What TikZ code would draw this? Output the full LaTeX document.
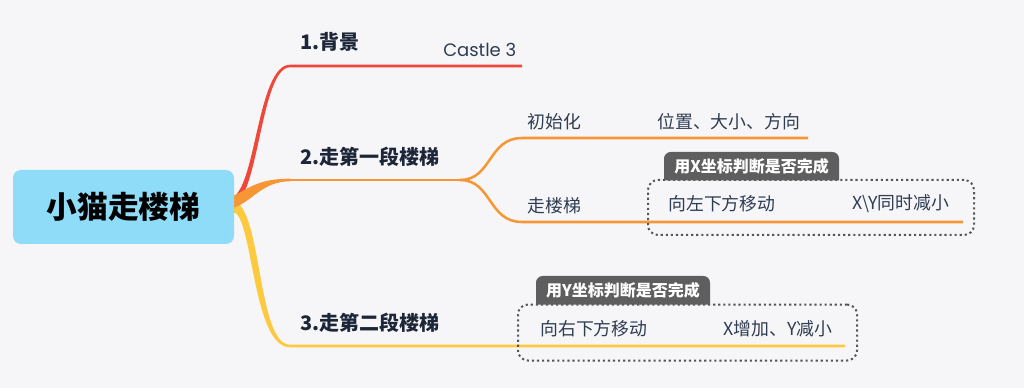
\documentclass[tikz,border=0pt]{standalone}
\usepackage{fontspec}
\setmainfont{Noto Sans CJK SC}
\newfontfamily\latinfont{Poppins}
\definecolor{bg}{HTML}{F6F6F9}
\definecolor{rootblue}{HTML}{8EDCF7}
\definecolor{redbr}{HTML}{F0473B}
\definecolor{orangebr}{HTML}{F79634}
\definecolor{yellowbr}{HTML}{FDC93E}
\definecolor{txt}{HTML}{2F3D52}
\definecolor{hdr}{HTML}{1C2638}
\definecolor{tabgray}{HTML}{5E5E5E}
\definecolor{dotgray}{HTML}{555555}
\begin{document}
\begin{tikzpicture}[x=0.75pt,y=-0.75pt,
  rootbox/.style={fill=rootblue,rounded corners=6pt,minimum width=165.75pt,minimum height=55.5pt,inner sep=0pt,font=\fontsize{23}{26}\selectfont\bfseries,text=black},
  hdrtext/.style={anchor=west,inner sep=0pt,font=\fontsize{15}{18}\selectfont\bfseries,text=hdr},
  bodytext/.style={anchor=west,inner sep=0pt,font=\fontsize{13.4}{16}\selectfont,text=txt},
  tabtext/.style={inner sep=0pt,font=\fontsize{12}{14}\selectfont\bfseries,text=white},
  dotbox/.style={draw=dotgray,line width=1.5pt,dash pattern=on 1.6pt off 2.2pt,rounded corners=7.5pt,inner sep=0pt},
  branch/.style={line width=1.9pt},
]
\fill[bg] (0,0) rectangle (1024,388);
\useasboundingbox (0,0) rectangle (1024,388);

% coordinates
\coordinate (b1end) at (522,66);
\coordinate (b2mid) at (460,180);
\coordinate (b2a) at (808,138);
\coordinate (b2b) at (963,222);
\coordinate (b3end) at (845,346);

% branch 1 (red)
\fill[redbr] (233,197) .. controls (256,185) and (258,64.7) .. (290,64.7) -- (b1end|-0,64.7) -- (b1end|-0,67.3) -- (290,67.3) .. controls (261,67.3) and (259,197) .. (233,206) -- cycle;
% branch 3 (yellow)
\fill[yellowbr] (233,201) .. controls (262,205) and (257,344.7) .. (290,344.7) -- (b3end|-0,344.7) -- (b3end|-0,347.3) -- (290,347.3) .. controls (252,347.3) and (253,214) .. (233,212) -- cycle;
% branch 2 (orange)
\fill[orangebr] (233,196) .. controls (250,188) and (258,178.7) .. (290,178.7) -- (290,181.3) .. controls (262,181.3) and (252,202) .. (233,208) -- cycle;
\draw[orangebr,branch] (289,180) -- (b2mid);
\draw[orangebr,branch] (b2mid) .. controls (492,180) and (488,138) .. (522,138) -- (b2a);
\draw[orangebr,branch] (b2mid) .. controls (492,180) and (488,222) .. (522,222) -- (b2b);

% root
\node[rootbox] (root) at (123.5,207) {小猫走楼梯};

% headers
\node[hdrtext] (h1) at (300,42) {1.背景};
\node[anchor=west,inner sep=0pt,font=\latinfont\fontsize{13.5}{16}\selectfont,text=txt] (castle) at (443,49.5) {Castle 3};
\node[hdrtext] (h2) at (300,157) {2.走第一段楼梯};
\node[hdrtext] (h3) at (300,322.5) {3.走第二段楼梯};

% sub-branch texts
\node[bodytext] (init) at (527,122) {初始化};
\node[bodytext] (initv) at (657,122) {位置、大小、方向};
\node[bodytext] (walk) at (527,206) {走楼梯};

% box 1
\node[dotbox,minimum width=244.5pt,minimum height=41.25pt] (box1) at (811,207.5) {};
\fill[tabgray] (664,180.5) [rounded corners=5pt] -- (664,152) -- (839,152) [sharp corners] -- (839,180.5) -- cycle;
\node[tabtext] (tab1) at (751.5,166) {用X坐标判断是否完成};
\node[bodytext] (m1) at (668,204) {向左下方移动};
\node[bodytext] (m1v) at (852,204) {X\textbackslash Y同时减小};

% box 2
\node[dotbox,minimum width=254.25pt,minimum height=42pt] (box2) at (687.5,332.5) {};
\fill[tabgray] (536,304.5) [rounded corners=5pt] -- (536,276) -- (710,276) [sharp corners] -- (710,304.5) -- cycle;
\node[tabtext] (tab2) at (623,290) {用Y坐标判断是否完成};
\node[bodytext] (m2) at (540,329) {向右下方移动};
\node[bodytext] (m2v) at (723,329) {X增加、Y减小};
\end{tikzpicture}
\end{document}
